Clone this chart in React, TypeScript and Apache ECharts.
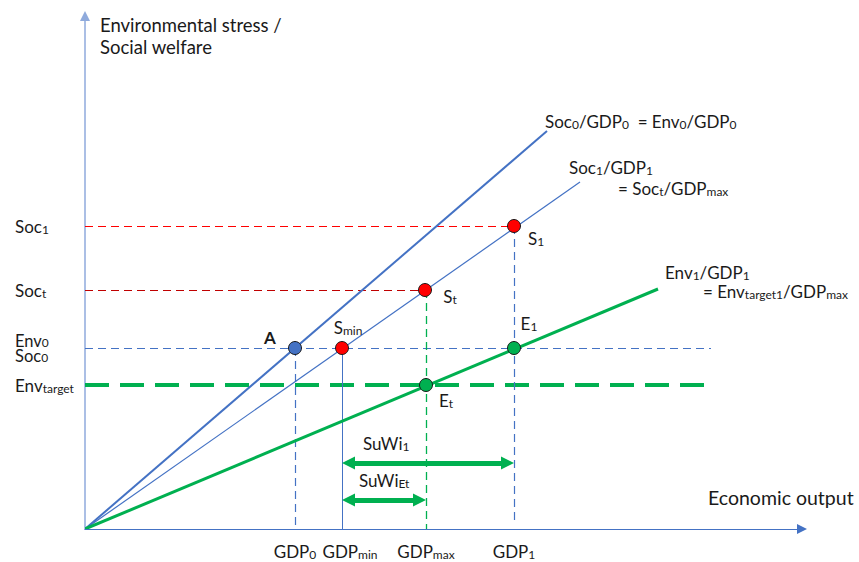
import React, { useEffect, useRef } from 'react';
import * as echarts from 'echarts';

const FONT = 'Lato, "Liberation Sans", sans-serif';
const BLUE = '#4472C4';
const LIGHTBLUE = '#8FAADC';
const GREEN = '#00B050';
const RED = '#FF0000';
const DARKRED = '#C00000';
const TXT = '#1a1a1a';

// Economic output ticks: GDP0, GDPmin, GDPmax, GDP1
const gdpTicks = [210, 257, 341, 429];
const gdpTickLabels = ['{n|GDP}{s|0}', '{np|GDP}{s|min}', '{n|GDP}{s|max}', '{n|GDP}{s|1}'];
// Stress / welfare ticks: Soc1, Soct, Env0 = Soc0, Envtarget
const levelTicks = [303, 239, 181, 144];
const levelTickLabels = ['{n|Soc}{s|1}', '{n|Soc}{s|t}', '{m|Env}{ms|0}\n{m|Soc}{ms|0}', '{n|Env}{s|target}'];

// Rays from the origin (end points)
const rayEndX = [462, 495, 573];
const rayEndY = [398, 347, 240];

// Points
const pointNames = ['A', 'Smin', 'St', 'S1', 'Et', 'E1'];
const pointX = [210, 257, 340, 429, 341, 429];
const pointY = [181, 181, 239, 303, 144, 181];
const pointLabels = ['{b|A}', '{n|S}{s|min}', '{n|S}{s|t}', '{n|S}{s|1}', '{n|E}{s|t}', '{n|E}{s|1}'];

// Horizontal guides: level, x end
const hGuideY = [303, 239, 181, 144];
const hGuideEnd = [429, 340, 626, 625];
// Vertical guides: x, top level, bottom level
const vGuideX = [210, 257, 341, 429];
const vGuideTop = [181, 181, 239, 303];
const vGuideBottom = [0, 0, 0, 6];

// SuWi arrows: from, to, level
const arrowFrom = [257, 257];
const arrowTo = [429, 341];
const arrowLevel = [66, 29];

const mkRich = () => ({
  n: { fontFamily: FONT, fontSize: 17, lineHeight: 18, color: TXT, fill: TXT },
  np: { fontFamily: FONT, fontSize: 17, lineHeight: 18, color: TXT, fill: TXT, padding: [0, 0, 0, 16] },
  b: { fontFamily: FONT, fontSize: 17, lineHeight: 18, fontWeight: 'bold', color: TXT, fill: TXT },
  s: { fontFamily: FONT, fontSize: 12, lineHeight: 4, verticalAlign: 'bottom', color: TXT, fill: TXT },
  m: { fontFamily: FONT, fontSize: 16.5, lineHeight: 15, color: TXT, fill: TXT },
  ms: { fontFamily: FONT, fontSize: 12, lineHeight: 1, verticalAlign: 'bottom', color: TXT, fill: TXT },
  t1: { fontFamily: FONT, fontSize: 18.5, lineHeight: 20, color: TXT, fill: TXT },
  t2: { fontFamily: FONT, fontSize: 19.5, lineHeight: 22, color: TXT, fill: TXT },
});

const annotations = [
  { text: '{t1|Environmental stress /}', x: 100, y: 25 },
  { text: '{t1|Social welfare}', x: 100, y: 47 },
  { text: '{t2|Economic output}', x: 708, y: 497 },
  { text: '{n|Soc}{s|0}{n|/GDP}{s|0}{n|  = Env}{s|0}{n|/GDP}{s|0}', x: 545, y: 121 },
  { text: '{n|Soc}{s|1}{n|/GDP}{s|1}', x: 569, y: 167 },
  { text: '{n|= Soc}{s|t}{n|/GDP}{s|max}', x: 618, y: 188 },
  { text: '{n|Env}{s|1}{n|/GDP}{s|1}', x: 665, y: 272 },
  { text: '{n|= Env}{s|target1}{n|/GDP}{s|max}', x: 703, y: 291 },
  { text: '{n|SuWi}{s|1}', x: 363, y: 443 },
  { text: '{n|SuWi}{s|Et}', x: 359, y: 480 },
];

const pointColors: Record<string, string> = { A: BLUE, Smin: RED, St: RED, S1: RED, Et: GREEN, E1: GREEN };
const pointOffsets: Record<string, number[]> = {
  A: [-25, -11], Smin: [6, -21], St: [25, 6], S1: [22, 12], Et: [20, 15], E1: [15, -25],
};

export default function App() {
  const ref = useRef<HTMLDivElement>(null);
  useEffect(() => {
    if (!ref.current) return;
    const chart = echarts.init(ref.current, undefined, { renderer: 'svg' });
    const rich = mkRich();

    const rayStyles = [
      { color: BLUE, width: 2, opacity: 1 },
      { color: BLUE, width: 1.2, opacity: 1 },
      { color: GREEN, width: 3, opacity: 1 },
    ];
    const rays = rayEndX.map((x, i) => ({ coords: [[0, 0], [x, rayEndY[i]]], lineStyle: rayStyles[i] }));

    const hStyles = [
      { color: RED, width: 1.2, type: [8, 5], opacity: 1 },
      { color: DARKRED, width: 1.2, type: [8, 5], opacity: 1 },
      { color: BLUE, width: 1.2, type: [8, 5], opacity: 1 },
      { color: GREEN, width: 4, type: [24, 11], opacity: 1 },
    ];
    const hGuides = hGuideY.map((y, i) => ({ coords: [[0, y], [hGuideEnd[i], y]], lineStyle: hStyles[i] }));

    const vStyles = [
      { color: BLUE, width: 1.2, type: [8, 5], opacity: 1 },
      { color: BLUE, width: 1, type: 'solid', opacity: 1 },
      { color: GREEN, width: 1.3, type: [8, 5], opacity: 1 },
      { color: BLUE, width: 1.2, type: [8, 5], opacity: 1 },
    ];
    const vGuides = vGuideX.map((x, i) => ({ coords: [[x, vGuideTop[i]], [x, vGuideBottom[i]]], lineStyle: vStyles[i] }));

    const INSET = 6.5;
    const arrows = arrowFrom.map((x, i) => ({
      coords: [[x + INSET, arrowLevel[i]], [arrowTo[i] - INSET, arrowLevel[i]]],
    }));

    const points = pointNames.map((n, i) => ({
      name: n,
      value: [pointX[i], pointY[i]],
      itemStyle: { color: pointColors[n] },
      label: { offset: pointOffsets[n] },
    }));

    // Tick labels split over two stacked x axes so that touching labels are never dropped
    const xLabel = (vals: number[]) => ({
      customValues: vals,
      margin: 13,
      formatter: (v: number) => gdpTickLabels[gdpTicks.indexOf(v)] ?? '',
      rich,
      color: TXT,
      hideOverlap: false,
      showMinLabel: true,
      showMaxLabel: true,
    });

    chart.setOption({
      animation: false,
      backgroundColor: '#ffffff',
      grid: { left: 85, right: 57, top: 16, bottom: 33 },
      xAxis: [
        {
          type: 'value', min: 0, max: 717, position: 'bottom',
          splitLine: { show: false },
          axisTick: { show: false },
          axisLine: { show: true, onZero: false, symbol: ['none', 'triangle'], symbolSize: [10, 10], lineStyle: { color: BLUE, width: 1.2 } },
          axisLabel: xLabel(gdpTicks.filter((_, i) => i % 2 === 0)),
        },
        {
          type: 'value', min: 0, max: 717, position: 'bottom', offset: 0,
          splitLine: { show: false },
          axisTick: { show: false },
          axisLine: { show: false, onZero: false },
          axisLabel: xLabel(gdpTicks.filter((_, i) => i % 2 === 1)),
        },
      ],
      yAxis: {
        type: 'value', min: 0, max: 513,
        splitLine: { show: false },
        axisTick: { show: false },
        axisLine: { show: true, onZero: false, symbol: ['none', 'triangle'], symbolSize: [10, 10], lineStyle: { color: LIGHTBLUE, width: 1.5 } },
        axisLabel: {
          customValues: levelTicks,
          margin: 70,
          align: 'left',
          formatter: (v: number) => levelTickLabels[levelTicks.indexOf(v)] ?? '',
          rich,
          color: TXT,
          hideOverlap: false,
          showMinLabel: true,
          showMaxLabel: true,
        },
      },
      series: [
        { type: 'lines', coordinateSystem: 'cartesian2d', polyline: false, silent: true, z: 2, symbol: 'none', lineStyle: { opacity: 1 }, data: hGuides },
        { type: 'lines', coordinateSystem: 'cartesian2d', polyline: false, silent: true, z: 2, symbol: 'none', lineStyle: { opacity: 1 }, data: vGuides },
        { type: 'lines', coordinateSystem: 'cartesian2d', polyline: false, silent: true, z: 3, symbol: 'none', lineStyle: { opacity: 1 }, data: rays },
        {
          type: 'lines', coordinateSystem: 'cartesian2d', polyline: false, silent: true, z: 4,
          symbol: ['triangle', 'triangle'], symbolSize: 13,
          lineStyle: { color: GREEN, width: 5, opacity: 1 },
          data: arrows,
        },
        {
          type: 'scatter', z: 10, symbolSize: 13, silent: true,
          itemStyle: { borderColor: TXT, borderWidth: 1, opacity: 1 },
          label: {
            show: true, position: 'inside', color: TXT, textBorderWidth: 0,
            formatter: (p: any) => pointLabels[p.dataIndex],
            rich,
          },
          data: points,
        },
      ],
      graphic: annotations.map((a) => ({
        type: 'text', x: a.x, y: a.y, silent: true,
        style: { text: a.text, rich, fontFamily: FONT, fontSize: 17, fill: TXT, align: 'left', verticalAlign: 'middle' },
      })),
    });
    return () => chart.dispose();
  }, []);
  return <div ref={ref} style={{ position: 'absolute', left: 0, top: 0, width: 859, height: 562, background: '#fff' }} />;
}
